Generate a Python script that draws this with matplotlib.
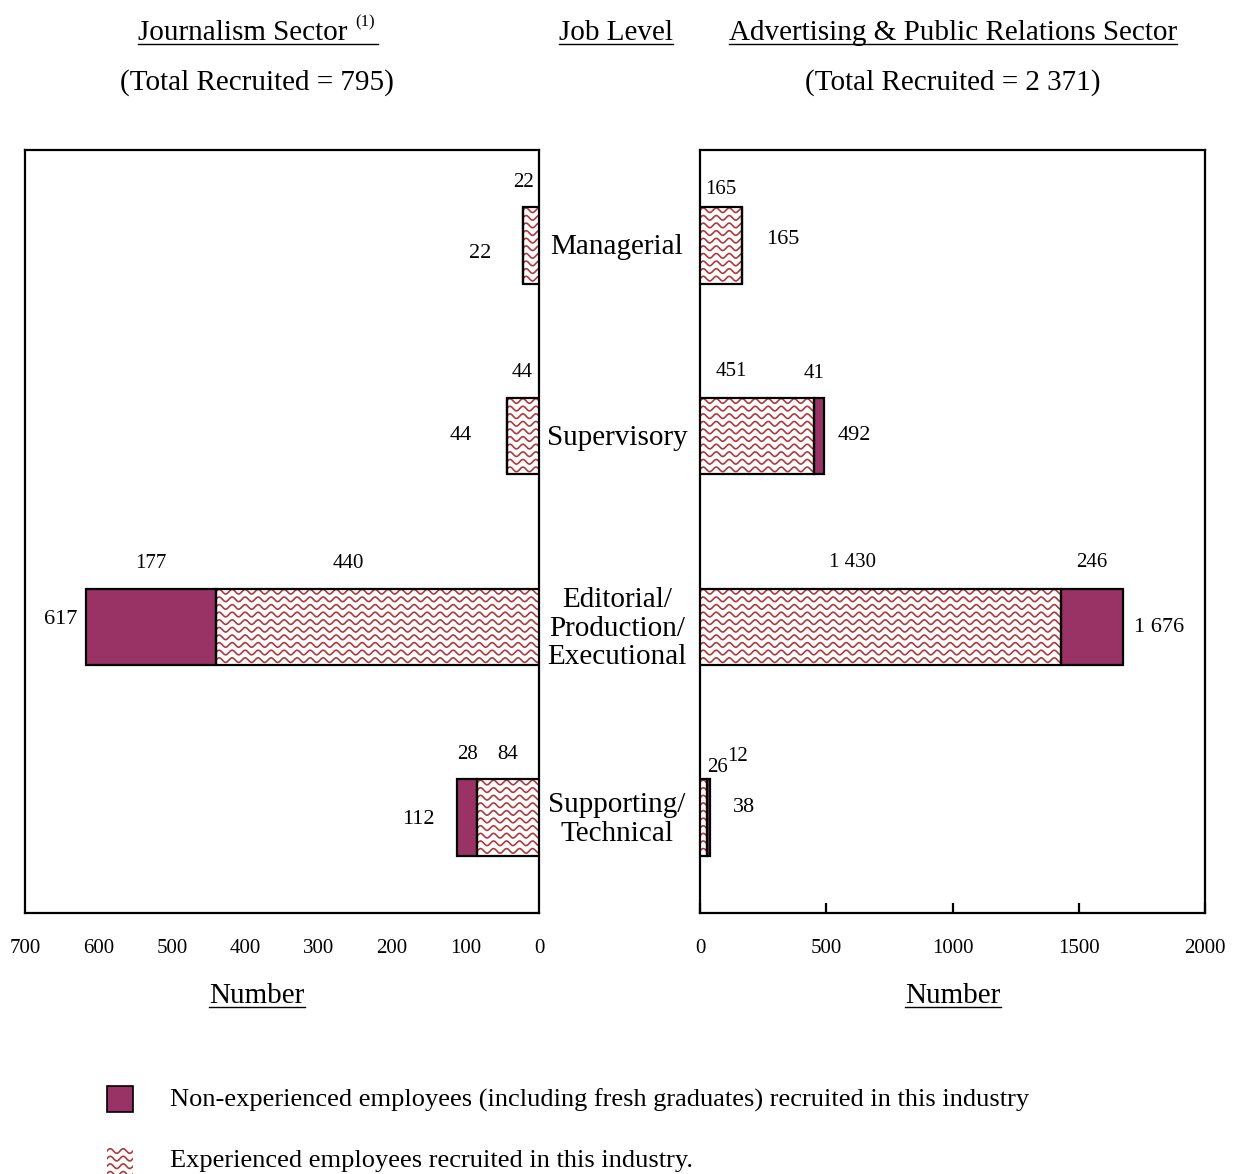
import numpy as np
import matplotlib
matplotlib.use('Agg')
import matplotlib.pyplot as plt
from matplotlib.patches import Rectangle
from matplotlib.lines import Line2D
from matplotlib.transforms import IdentityTransform

plt.rcParams['font.family'] = ['Liberation Serif', 'DejaVu Serif']

levels = ['Managerial', 'Supervisory', 'Editorial/\nProduction/\nExecutional',
          'Supporting/\nTechnical']

# Journalism sector
jour_exp = [22, 44, 440, 84]
jour_new = [0, 0, 177, 28]
jour_total = 795

# Advertising & public relations sector
adv_exp = [165, 451, 1430, 26]
adv_new = [0, 41, 246, 12]
adv_total = 2371

plum = '#993366'
wave_col = '#b0393d'

W, H, DPI = 12.35, 11.74, 100
fig = plt.figure(figsize=(W, H), dpi=DPI)
PX_W, PX_H = W * DPI, H * DPI


def fmt(v):
    return f'{v:,}'.replace(',', ' ')


def px_axes(x0, y0, x1, y1):
    # axes placed by pixel box (top-left origin)
    return fig.add_axes([x0 / PX_W, 1 - y1 / PX_H, (x1 - x0) / PX_W, (y1 - y0) / PX_H])


def wave_fill(patch, parent, z):
    # wavy line hatch drawn in display pixels, clipped to the patch
    fig.canvas.draw()
    bb = patch.get_window_extent()
    period, amp, gap = 13.0, 2.3, 7.6
    xs = np.arange(bb.x0 - period, bb.x1 + period, 0.5)
    y = bb.y1 - 3
    while y > bb.y0 - amp:
        ys = y + amp * np.sin(2 * np.pi * (xs - bb.x0) / period)
        ln = Line2D(xs, ys, transform=IdentityTransform(), color=wave_col,
                    lw=1.2, zorder=z)
        parent.add_artist(ln)
        ln.set_clip_path(patch)
        y -= gap


axL = px_axes(25, 150, 539, 913)
axR = px_axes(700, 150, 1205, 913)

ypos = np.arange(len(levels))
bh = 0.4

for ax in (axL, axR):
    ax.set_ylim(3.5, -0.5)
    ax.set_yticks([])
    for s in ax.spines.values():
        s.set_linewidth(1.6)
        s.set_color('black')

axL.set_xlim(700, 0)
axL.set_xticks(range(0, 701, 100))
axL.tick_params(axis='x', length=0, labelsize=15, pad=18.5)
axR.set_xlim(0, 2000)
axR.set_xticks(range(0, 2001, 500))
axR.tick_params(axis='x', direction='in', length=7, width=1.6, labelsize=15, pad=18.5)

hatched = []
for ax, exp, new in ((axL, jour_exp, jour_new), (axR, adv_exp, adv_new)):
    b1 = ax.barh(ypos, exp, height=bh, color='white', edgecolor='none', zorder=3)
    ax.barh(ypos, new, left=exp, height=bh, color=plum, edgecolor='none', zorder=3)
    # outlines on top of the wave hatch
    ax.barh(ypos, exp, height=bh, fill=False, edgecolor='black', lw=1.6, zorder=4)
    ax.barh(ypos, new, left=exp, height=bh, fill=False, edgecolor='black', lw=1.6, zorder=4)
    for p in b1.patches:
        hatched.append((ax, p))

# label nudges in pixels
seg_dx_L = [(-7, 0), (-1, 0), (-29, 0), (0, 0)]
seg_dx_R = [(0, 0), (-26, -5), (-28, 0), (14, 29)]
seg_dy_R = [(18, 0), (26, 24), (26, 26), (12, 23)]
tot_gap_L = [43, 46, 25, 38]
tot_gap_R = [41, 30, 36, 34]
tot_dy = [-8, 1, 7, -2]
tot_dy_R = [6, 1, -1, 10]


def lab(ax, x, y, s, dx, dy, size=15):
    ax.annotate(s, (x, y), xytext=(dx * 0.72, dy * 0.72), textcoords='offset points',
                ha='center', va='center', fontsize=size, annotation_clip=False, zorder=5)


for i in range(len(levels)):
    top = ypos[i] - bh / 2
    # journalism
    e, n = jour_exp[i], jour_new[i]
    lab(axL, e / 2, top, str(e), seg_dx_L[i][0], 25)
    if n:
        lab(axL, e + n / 2, top, str(n), seg_dx_L[i][1], 25)
    lab(axL, e + n, ypos[i], fmt(e + n), -tot_gap_L[i], tot_dy[i], 16)
    # advertising
    e, n = adv_exp[i], adv_new[i]
    lab(axR, e / 2, top, fmt(e), seg_dx_R[i][0], seg_dy_R[i][0])
    if n:
        lab(axR, e + n / 2, top, fmt(n), seg_dx_R[i][1], seg_dy_R[i][1])
    lab(axR, e + n, ypos[i], fmt(e + n), tot_gap_R[i], tot_dy_R[i], 16)

for ax, p in hatched:
    wave_fill(p, ax, 3.5)

# category names between the panels
for i, name in enumerate(levels):
    y_px = axL.transData.transform((0, ypos[i]))[1]
    fig.text(617 / PX_W, (y_px - 2) / PX_H, name, ha='center', va='center', fontsize=21,
             linespacing=1.12)

# headings
underlined = []
underlined.append(fig.text(243 / PX_W, 1 - 33 / PX_H, 'Journalism Sector',
                           ha='center', va='center', fontsize=21))
fig.text(355 / PX_W, 1 - 22 / PX_H, '(1)', ha='left', va='center', fontsize=12)
fig.text(257 / PX_W, 1 - 83 / PX_H, f'(Total Recruited = {jour_total})',
         ha='center', va='center', fontsize=21)
underlined.append(fig.text(616 / PX_W, 1 - 33 / PX_H, 'Job Level',
                           ha='center', va='center', fontsize=21))
underlined.append(fig.text(953 / PX_W, 1 - 33 / PX_H, 'Advertising & Public Relations Sector',
                           ha='center', va='center', fontsize=21))
fig.text(953 / PX_W, 1 - 83 / PX_H, f'(Total Recruited = {fmt(adv_total)})',
         ha='center', va='center', fontsize=21)
underlined.append(fig.text(257 / PX_W, 1 - 996 / PX_H, 'Number',
                           ha='center', va='center', fontsize=21))
underlined.append(fig.text(953 / PX_W, 1 - 996 / PX_H, 'Number',
                           ha='center', va='center', fontsize=21))

fig.canvas.draw()
for t in underlined:
    bb = t.get_window_extent()
    x1 = bb.x1
    if t.get_text() == 'Journalism Sector':
        x1 = 378
    yl = bb.y0 + 2
    fig.add_artist(Line2D([bb.x0, x1], [yl, yl], transform=IdentityTransform(),
                          color='black', lw=1.0))

# legend
sq1 = Rectangle((107 / PX_W, 1 - 1112 / PX_H), 26 / PX_W, 26 / PX_H, transform=fig.transFigure,
                facecolor=plum, edgecolor='black', lw=1.2)
sq2 = Rectangle((107 / PX_W, 1 - 1174 / PX_H), 26 / PX_W, 26 / PX_H, transform=fig.transFigure,
                facecolor='white', edgecolor='none', lw=0)
fig.add_artist(sq1)
fig.add_artist(sq2)
wave_fill(sq2, fig, 2)
fig.text(170 / PX_W, 1 - 1100 / PX_H,
         'Non-experienced employees (including fresh graduates) recruited in this industry',
         ha='left', va='center', fontsize=19)
fig.text(170 / PX_W, 1 - 1161 / PX_H, 'Experienced employees recruited in this industry.',
         ha='left', va='center', fontsize=19)

fig.savefig('out.png', dpi=DPI, facecolor='white')
